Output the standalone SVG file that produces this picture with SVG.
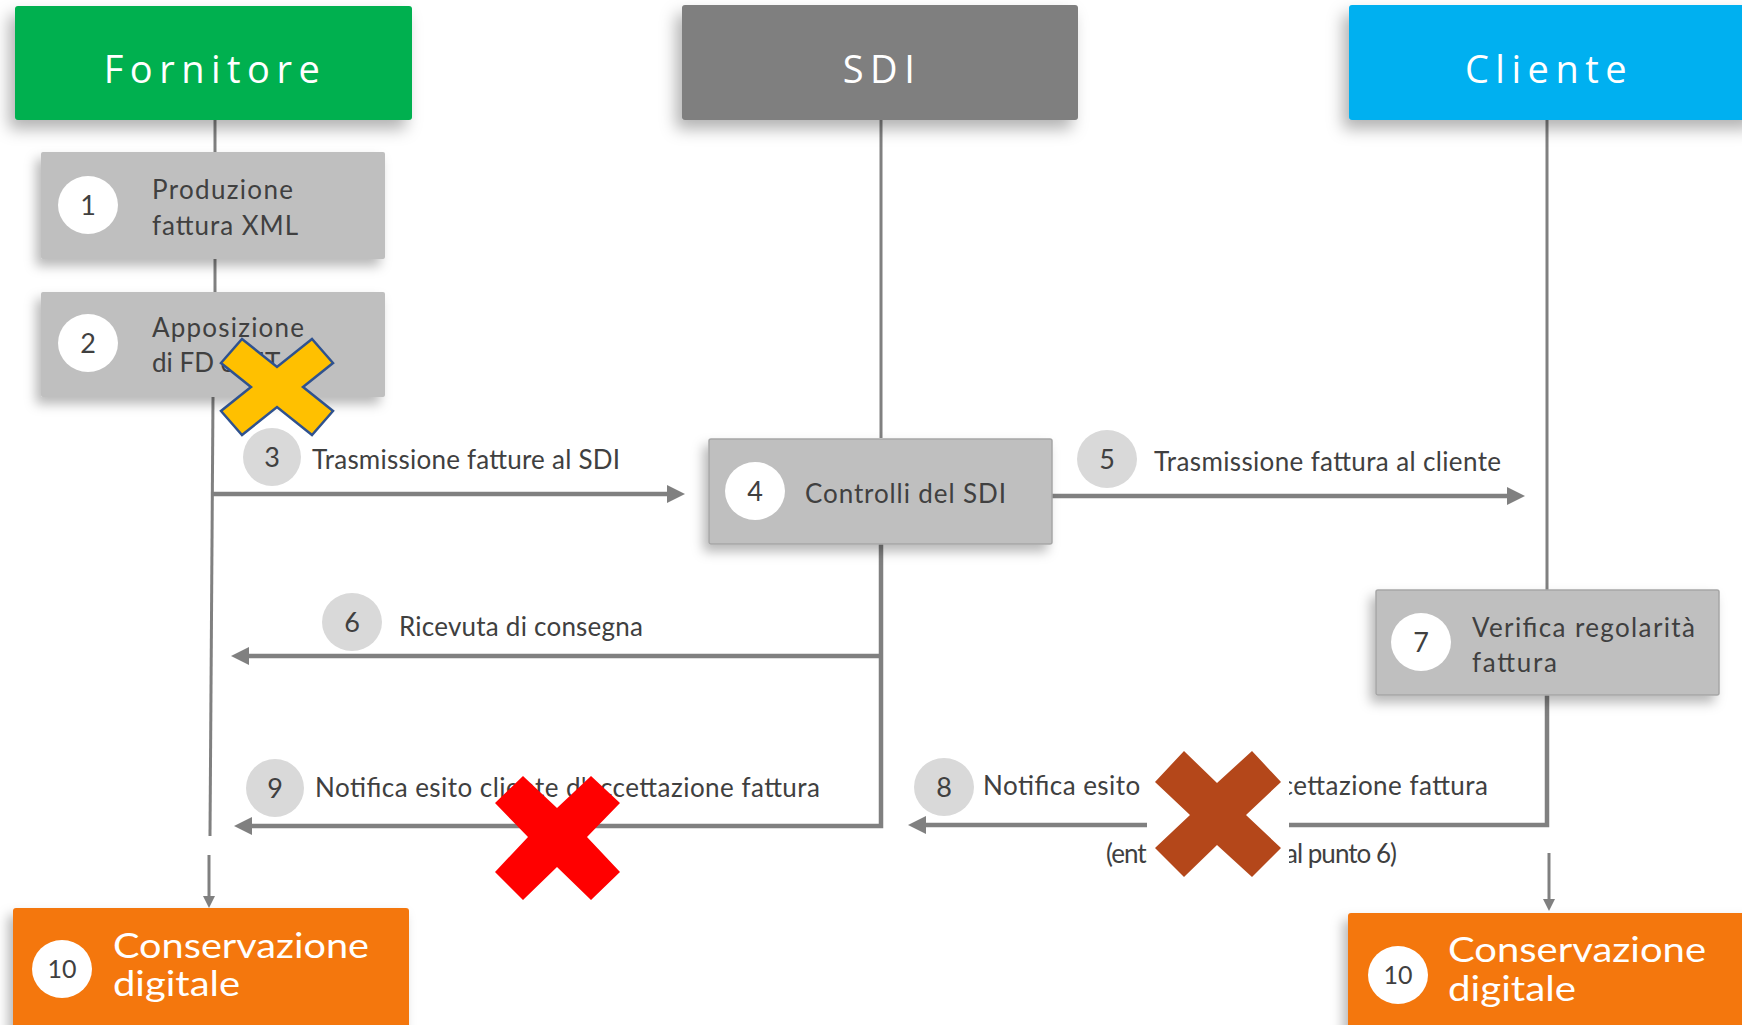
<svg xmlns="http://www.w3.org/2000/svg" width="1742" height="1025" viewBox="0 0 1742 1025">
<style>
.hdr{font-family:"Open Sans","Noto Sans",sans-serif;font-size:38px;fill:#ffffff;letter-spacing:6.5px;text-anchor:middle}
.box{fill:#BFBFBF}
.txt{font-family:Lato,"Liberation Sans",sans-serif;font-size:26px;fill:#404040}
.num{font-family:Lato,"Liberation Sans",sans-serif;font-size:27px;fill:#404040;text-anchor:middle}
.wc{fill:#ffffff}
.gc{fill:#D9D9D9}
.ln{fill:none;stroke:#808080;stroke-width:3}
.ar{fill:none;stroke:#808080;stroke-width:4.5}
.ar2{fill:none;stroke:#808080;stroke-width:3}
.big{font-family:Lato,"Liberation Sans",sans-serif;font-size:34px;fill:#ffffff}
</style>
<defs>
<filter id="sh" x="-20%" y="-30%" width="140%" height="170%">
<feDropShadow dx="-6" dy="9" stdDeviation="8" flood-color="#000" flood-opacity="0.3"/>
</filter>
<filter id="sh2" x="-20%" y="-30%" width="140%" height="170%">
<feDropShadow dx="-5" dy="7" stdDeviation="6" flood-color="#000" flood-opacity="0.28"/>
</filter>
<marker id="ah" markerUnits="userSpaceOnUse" markerWidth="19" markerHeight="18" refX="0" refY="9" orient="auto">
<path d="M0,0 L18,9 L0,18 z" fill="#808080"/>
</marker>
<marker id="ahs" markerUnits="userSpaceOnUse" markerWidth="13" markerHeight="12" refX="0" refY="6" orient="auto">
<path d="M0,0 L12,6 L0,12 z" fill="#808080"/>
</marker>
</defs>
<rect width="1742" height="1025" fill="#ffffff"/>

<g id="connectors">
<path class="ln" d="M215,120 V152"/>
<path class="ln" d="M215,259 V292"/>
<path class="ln" d="M213,397 L210,836"/>
<path class="ln" d="M881,120 V438"/>
<path class="ln" d="M1547,120 V590"/>
<path class="ar" d="M212,494 H667" marker-end="url(#ah)"/>
<path class="ar" d="M1052,496 H1507" marker-end="url(#ah)"/>
<path class="ar" d="M881,656 H249" marker-end="url(#ah)"/>
<path class="ar" d="M881,544 V826 H252" marker-end="url(#ah)"/>
<path class="ar" d="M1547,695 V825 H926" marker-end="url(#ah)"/>
<path class="ar2" d="M209,855 V896" marker-end="url(#ahs)"/>
<path class="ar2" d="M1549,853 V899" marker-end="url(#ahs)"/>
</g>

<g id="fornitore">
<rect x="15" y="6" width="397" height="114" rx="3" fill="#00B050" filter="url(#sh)"/>
<text class="hdr" x="215" y="83">Fornitore</text>
</g>
<g id="sdi">
<rect x="682" y="5" width="396" height="115" rx="3" fill="#7F7F7F" filter="url(#sh)"/>
<text class="hdr" x="882" y="83">SDI</text>
</g>
<g id="cliente">
<rect x="1349" y="5" width="410" height="115" rx="3" fill="#00B0F0" filter="url(#sh)"/>
<text class="hdr" x="1549" y="83">Cliente</text>
</g>

<g id="step1">
<rect class="box" x="41" y="152" width="344" height="107" rx="2" filter="url(#sh2)"/>
<ellipse class="wc" cx="88" cy="205" rx="30" ry="29"/>
<text class="num" x="88" y="215">1</text>
<text class="txt" x="152" y="199" textLength="141">Produzione</text>
<text class="txt" x="152" y="235" textLength="146">fattura XML</text>
</g>
<g id="step2">
<rect class="box" x="41" y="292" width="344" height="105" rx="2" filter="url(#sh2)"/>
<ellipse class="wc" cx="88" cy="343" rx="30" ry="29"/>
<text class="num" x="88" y="353">2</text>
<text class="txt" x="152" y="337" textLength="152">Apposizione</text>
<text class="txt" x="152" y="372">di FD e MT</text>
</g>
<g id="step3">
<ellipse class="gc" cx="272" cy="457" rx="29" ry="29"/>
<text class="num" x="272" y="467">3</text>
<text class="txt" x="312" y="469" textLength="308">Trasmissione fatture al SDI</text>
</g>
<g id="step4">
<rect class="box" x="709" y="439" width="343" height="105" rx="2" stroke="#A6A6A6" stroke-width="1.5" filter="url(#sh2)"/>
<ellipse class="wc" cx="755" cy="491" rx="30" ry="29"/>
<text class="num" x="755" y="501">4</text>
<text class="txt" x="805" y="503" textLength="201">Controlli del SDI</text>
</g>
<g id="step5">
<ellipse class="gc" cx="1107" cy="459" rx="30" ry="29"/>
<text class="num" x="1107" y="469">5</text>
<text class="txt" x="1154" y="471" textLength="347">Trasmissione fattura al cliente</text>
</g>
<g id="step6">
<ellipse class="gc" cx="352" cy="622" rx="30" ry="29"/>
<text class="num" x="352" y="632">6</text>
<text class="txt" x="399" y="636" textLength="244">Ricevuta di consegna</text>
</g>
<g id="step7">
<rect class="box" x="1376" y="590" width="343" height="105" rx="2" stroke="#A6A6A6" stroke-width="1.5" filter="url(#sh2)"/>
<ellipse class="wc" cx="1421" cy="642" rx="30" ry="29"/>
<text class="num" x="1421" y="652">7</text>
<text class="txt" x="1472" y="637" textLength="223">Verifica regolarità</text>
<text class="txt" x="1472" y="672" textLength="85">fattura</text>
</g>
<g id="step8">
<ellipse class="gc" cx="944" cy="787" rx="30" ry="29"/>
<text class="num" x="944" y="797">8</text>
<text class="txt" x="983" y="795" textLength="505">Notifica esito cliente d'accettazione fattura</text>
<text class="txt" x="1106" y="863" textLength="291">(entro 15 giorni dal punto 6)</text>
</g>
<g id="step9">
<ellipse class="gc" cx="275" cy="788" rx="29" ry="29"/>
<text class="num" x="275" y="798">9</text>
<text class="txt" x="315" y="797" textLength="505">Notifica esito cliente d'accettazione fattura</text>
</g>
<g id="conservazione-fornitore">
<rect x="13" y="908" width="396" height="130" rx="3" fill="#F4770B" filter="url(#sh2)"/>
<ellipse class="wc" cx="62" cy="969" rx="30" ry="29"/>
<text class="num" x="62" y="978" style="font-size:25px">10</text>
<text class="big" x="113" y="958" textLength="256" lengthAdjust="spacingAndGlyphs">Conservazione</text>
<text class="big" x="113" y="996" textLength="127" lengthAdjust="spacingAndGlyphs">digitale</text>
</g>
<g id="conservazione-cliente">
<rect x="1348" y="913" width="410" height="130" rx="3" fill="#F4770B" filter="url(#sh2)"/>
<ellipse class="wc" cx="1398" cy="975" rx="30" ry="29"/>
<text class="num" x="1398" y="984" style="font-size:25px">10</text>
<text class="big" x="1448" y="962" textLength="258" lengthAdjust="spacingAndGlyphs">Conservazione</text>
<text class="big" x="1448" y="1001" textLength="128" lengthAdjust="spacingAndGlyphs">digitale</text>
</g>

<g id="cross-yellow">
<polygon points="221,363 242,339 277,367 312,339 333,363 303,387 333,411 312,435 277,407 242,435 221,411 251,387" fill="#FFC000" stroke="#2F528F" stroke-width="2.5" stroke-linejoin="miter"/>
</g>
<g id="cross-red">
<polygon points="523,776 557,808 591,776 620,803 587,837 620,872 591,900 557,867 523,900 495,872 528,837 495,803" fill="#FF0000"/>
</g>
<g id="cross-brown">
<rect x="1147" y="750" width="142" height="130" fill="#ffffff"/>
<polygon points="1184,751 1217,783 1252,751 1281,782 1246,815 1281,848 1252,877 1217,845 1184,877 1155,848 1190,815 1155,782" fill="#B4471A"/>
</g>
</svg>
